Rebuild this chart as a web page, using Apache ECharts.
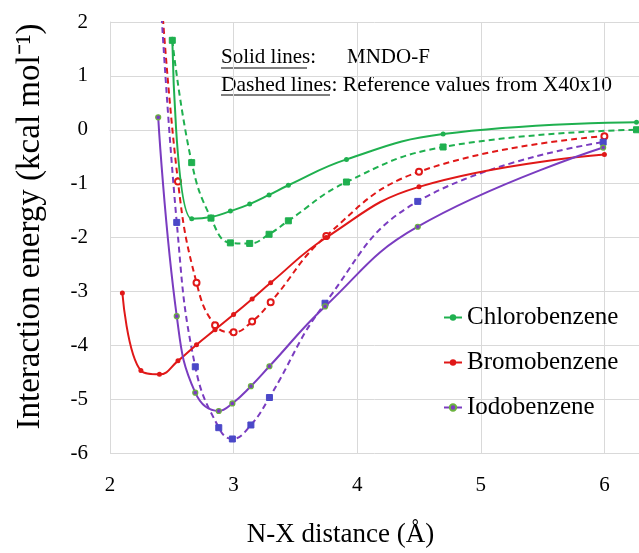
<!DOCTYPE html>
<html>
<head>
<meta charset="utf-8">
<script src="https://cdn.jsdelivr.net/npm/echarts@6/dist/echarts.min.js"></script>
<style>
  html, body { margin: 0; padding: 0; background: #fff; }
  #chart { width: 639px; height: 553px; }
</style>
</head>
<body>
<div id="chart"></div>
<script>
// N-X distances (Å) and interaction energies (kcal/mol)
const clX = [2.504, 2.661, 2.817, 2.974, 3.13, 3.287, 3.443, 3.913, 4.695, 6.26];
const clMndo = [1.68, -1.65, -1.62, -1.51, -1.38, -1.21, -1.03, -0.55, -0.08, 0.14];
const clRef = [1.66, -0.61, -1.64, -2.10, -2.11, -1.94, -1.69, -0.97, -0.32, 0.00];

const brX = [2.1, 2.25, 2.4, 2.55, 2.7, 2.85, 3.0, 3.15, 3.3, 3.75, 4.5, 6.0];
const brMndo = [-3.03, -4.47, -4.54, -4.29, -3.99, -3.71, -3.43, -3.14, -2.84, -2.00, -1.06, -0.46];
const brRef = [null, null, 3.0, -0.96, -2.84, -3.63, -3.76, -3.56, -3.20, -1.97, -0.78, -0.12];

const iX = [2.39, 2.54, 2.69, 2.88, 2.99, 3.14, 3.29, 3.74, 4.49, 5.99];
const iMndo = [0.23, -3.46, -4.88, -5.22, -5.08, -4.76, -4.39, -3.28, -1.80, -0.33];
const iRef = [3.2, -1.72, -4.40, -5.53, -5.74, -5.48, -4.97, -3.22, -1.33, -0.23];

const names = ['Chlorobenzene', 'Bromobenzene', 'Iodobenzene'];

const GREEN = '#1fb04f';
const RED = '#e01818';
const PURPLE = '#7a3cc0';
const FONT = 'Liberation Serif';

// pair up x and y arrays
const pts = (xs, ys) => xs.map((x, i) => [x, ys[i]]);

const solid = (name, xs, ys, color, marker) => ({
  name: name,
  type: 'line',
  smooth: 0.45,
  data: pts(xs, ys),
  symbol: 'circle',
  symbolSize: 5,
  lineStyle: { color: color, width: 2 },
  itemStyle: Object.assign({ color: color }, marker || {}),
  z: 3
});

const dashed = (name, xs, ys, color, symbol, markColor) => ({
  name: name,
  type: 'line',
  smooth: 0.45,
  data: pts(xs, ys),
  symbol: symbol,
  symbolSize: 6,
  lineStyle: { color: color, width: 2, type: [6, 4] },
  itemStyle: { color: markColor, borderColor: markColor },
  z: 2
});

const chart = echarts.init(document.getElementById('chart'));

chart.setOption({
  animation: false,
  backgroundColor: '#fff',
  textStyle: { fontFamily: FONT, color: '#000' },
  grid: { left: 110, right: 0, top: 22, bottom: 95 },
  legend: {
    data: names,
    orient: 'vertical',
    left: 438,
    top: 300,
    itemWidth: 18,
    itemHeight: 8,
    itemGap: 20,
    textStyle: { fontFamily: FONT, fontSize: 25, color: '#000' }
  },
  xAxis: {
    type: 'value',
    min: 2,
    max: 6.28,
    interval: 1,
    name: 'N-X distance (Å)',
    nameLocation: 'middle',
    nameGap: 68,
    nameTextStyle: { fontFamily: FONT, fontSize: 27, color: '#000', padding: [0, 68, 0, 0] },
    axisLine: { show: true, lineStyle: { color: '#d9d9d9', width: 1 } },
    axisTick: { show: false },
    axisLabel: { fontFamily: FONT, fontSize: 21, color: '#000', margin: 22, showMaxLabel: false },
    splitLine: { show: true, lineStyle: { color: '#d9d9d9', width: 1 } }
  },
  yAxis: {
    type: 'value',
    min: -6,
    max: 2,
    interval: 1,
    name: 'Interaction energy (kcal mol⁻¹)',
    nameLocation: 'middle',
    nameGap: 63,
    nameTextStyle: { fontFamily: FONT, fontSize: 33, color: '#000', padding: [0, 0, 0, 22] },
    axisLine: { show: true, lineStyle: { color: '#d9d9d9', width: 1 } },
    axisTick: { show: false },
    axisLabel: { fontFamily: FONT, fontSize: 21, color: '#000', margin: 22 },
    splitLine: { show: true, lineStyle: { color: '#d9d9d9', width: 1 } }
  },
  graphic: [
    { type: 'text', left: 221, top: 47, style: { text: 'Solid lines:', font: '21px "Liberation Serif"', fill: '#000' } },
    { type: 'text', left: 347, top: 47, style: { text: 'MNDO-F', font: '21px "Liberation Serif"', fill: '#000' } },
    { type: 'text', left: 221, top: 74, style: { text: 'Dashed lines: Reference values from X40x10', font: '21.5px "Liberation Serif"', fill: '#000' } },
    { type: 'line', shape: { x1: 221, y1: 68, x2: 307, y2: 68 }, style: { stroke: '#000', lineWidth: 1 } },
    { type: 'line', shape: { x1: 221, y1: 95, x2: 330, y2: 95 }, style: { stroke: '#000', lineWidth: 1 } }
  ],
  series: [
    dashed('Chlorobenzene ref', clX, clRef, GREEN, 'rect', GREEN),
    dashed('Bromobenzene ref', brX, brRef, RED, 'emptyCircle', RED),
    dashed('Iodobenzene ref', iX, iRef, PURPLE, 'rect', '#4b48c8'),
    solid('Chlorobenzene', clX, clMndo, GREEN),
    solid('Bromobenzene', brX, brMndo, RED),
    solid('Iodobenzene', iX, iMndo, PURPLE, { color: PURPLE, borderColor: '#6cb33f', borderWidth: 1.2 })
  ]
});
</script>
</body>
</html>
